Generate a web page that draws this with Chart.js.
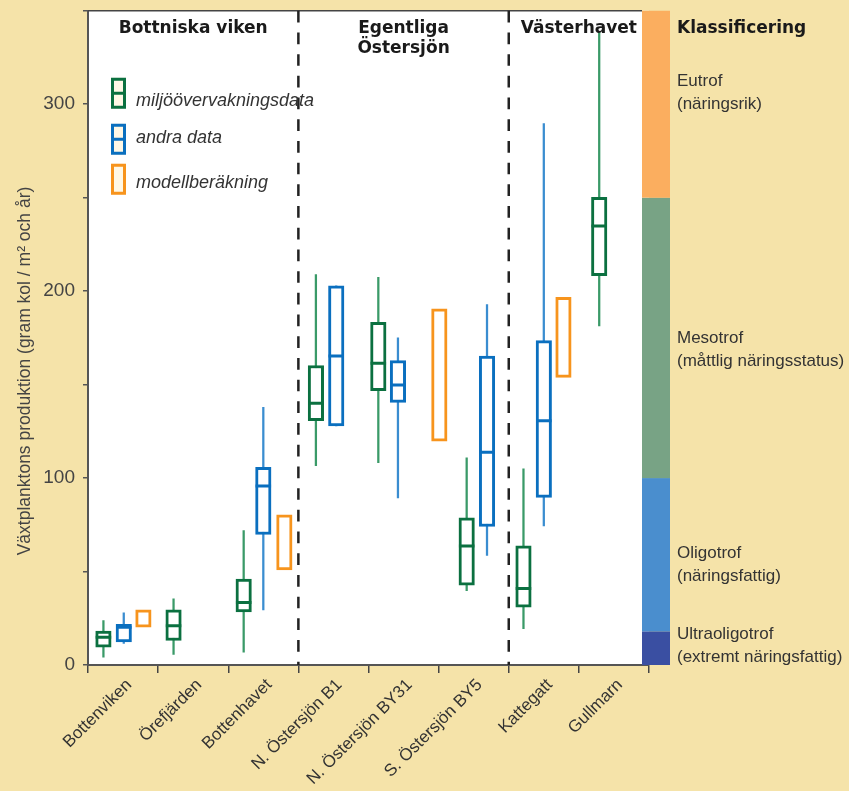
<!DOCTYPE html>
<html lang="sv">
<head>
<meta charset="utf-8">
<title>Växtplanktons produktion</title>
<script src="https://cdn.jsdelivr.net/npm/chart.js@4.4.1/dist/chart.umd.min.js"></script>
<style>
  html, body { margin: 0; padding: 0; background: #f5e3a9; }
  #wrap { width: 849px; height: 791px; }
</style>
</head>
<body>
<div id="wrap"><canvas id="prodChart" width="849" height="791"></canvas></div>
<script>
const categories = ['Bottenviken', 'Örefjärden', 'Bottenhavet', 'N. Östersjön B1',
    'N. Östersjön BY31', 'S. Östersjön BY5', 'Kattegatt', 'Gullmarn'];
const sectionTitles = [['Bottniska viken'], ['Egentliga', 'Östersjön'], ['Västerhavet']];
const sectionBreaks = [2.5, 5.5];
const yTicks = [0, 100, 200, 300];

// miljöövervakningsdata
const monMin = [4.2, 5.6, 6.8, 106.7, 108.3, 39.8, 19.4, 181.4];
const monQ1 = [9.5, 13.1, 28.4, 130.7, 146.8, 42.7, 30.9, 208.3];
const monMed = [14.9, 21.0, 33.4, 140.0, 161.4, 63.7, 40.9, 234.9];
const monQ3 = [18.1, 29.5, 45.9, 160.2, 183.3, 78.7, 63.7, 250.2];
const monMax = [23.8, 35.4, 71.9, 208.8, 207.4, 110.8, 104.9, 338.4];

// andra data
const otherMin = [11.5, null, 29.5, 127.9, 89.4, 58.6, 74.4, null];
const otherQ1 = [12.4, null, 69.8, 127.9, 140.5, 74.1, 89.7, null];
const otherMed = [20.2, null, 95.8, 165.3, 149.8, 113.8, 130.7, null];
const otherQ3 = [21.7, null, 105.8, 202.9, 162.8, 165.3, 173.5, null];
const otherMax = [27.9, null, 137.9, 202.9, 175.0, 192.8, 289.7, null];

// modellberäkning
const modelLow = [20.2, null, 50.9, null, null, 119.7, 153.9, null];
const modelHigh = [29.5, null, 80.3, null, null, 190.5, 196.7, null];

// klassificering
const classLimits = [0, 18, 100, 250, 350];
const classNames = ['Ultraoligotrof', 'Oligotrof', 'Mesotrof', 'Eutrof'];
const classNotes = ['(extremt näringsfattig)', '(näringsfattig)', '(måttlig näringsstatus)', '(näringsrik)'];
const legendLabels = ['miljöövervakningsdata', 'andra data', 'modellberäkning'];

// layout: box placement inside each category (category units) and label anchors
const monShift = [-0.28, -0.28, -0.28, -0.25, -0.36, -0.10, -0.29, -0.21];
const otherShift = [0.01, 0, 0, 0.04, -0.08, 0.19, 0, 0];
const modelShift = [0.29, 0, 0.30, 0, 0, -0.49, 0.28, 0];
const classLabelAt = [16.5, 60, 175, 312];

const FONT = "'Liberation Sans', Arial, sans-serif";
const BOLD = "'DejaVu Sans', sans-serif";
const colors = {
    mon: '#0b7040', monWhisker: '#3a9a68',
    other: '#0a6fbf', otherWhisker: '#3a8dd0',
    model: '#f7941d',
    bands: ['#3a4fa2', '#4a8ece', '#78a385', '#fbae5f'],
    text: '#333333'
};

function rangeData(lo, hi, shift) {
    return categories.map((c, i) => lo[i] == null ? null : { x: i + shift[i], y: [lo[i], hi[i]] })
        .filter(Boolean);
}

function pointData(values, shift) {
    return categories.map((c, i) => values[i] == null ? null : { x: i + shift[i], y: values[i] })
        .filter(Boolean);
}

// keep the plot area exactly where the axes say, no label overhang padding
function fixAxis(size) {
    return s => {
        if (s.isHorizontal()) s.height = size; else s.width = size;
        s.paddingTop = 0;
        s.paddingBottom = 0;
        s.paddingLeft = 0;
        s.paddingRight = 0;
    };
}

const common = { xAxisID: 'xPos', yAxisID: 'y' };
const boxStyle = { type: 'bar', grouped: false, barThickness: 15.5, borderWidth: 3,
    borderSkipped: false, backgroundColor: '#ffffff', order: 3 };
const whiskerStyle = { type: 'bar', grouped: false, barThickness: 1.6, borderWidth: 0, order: 5 };
const medianStyle = { type: 'scatter', pointStyle: 'line', pointRadius: 7.75,
    pointBorderWidth: 3, order: 1 };

const datasets = [
    { ...common, ...whiskerStyle, label: 'mon-whisker', data: rangeData(monMin, monMax, monShift),
        backgroundColor: colors.monWhisker },
    { ...common, ...whiskerStyle, label: 'other-whisker', data: rangeData(otherMin, otherMax, otherShift),
        backgroundColor: colors.otherWhisker },
    { ...common, ...boxStyle, label: legendLabels[0], data: rangeData(monQ1, monQ3, monShift),
        borderColor: colors.mon },
    { ...common, ...boxStyle, label: legendLabels[1], data: rangeData(otherQ1, otherQ3, otherShift),
        borderColor: colors.other },
    { ...common, ...boxStyle, label: legendLabels[2], data: rangeData(modelLow, modelHigh, modelShift),
        borderColor: colors.model },
    { ...common, ...medianStyle, label: 'mon-median', data: pointData(monMed, monShift),
        borderColor: colors.mon },
    { ...common, ...medianStyle, label: 'other-median', data: pointData(otherMed, otherShift),
        borderColor: colors.other }
];

function drawIcon(ctx, x, y, color, withMedian) {
    ctx.fillStyle = '#fff8e6';
    ctx.fillRect(x, y, 15, 31);
    ctx.strokeStyle = color;
    ctx.lineWidth = 3;
    ctx.strokeRect(x + 1.5, y + 1.5, 12, 28);
    if (withMedian) {
        ctx.beginPath();
        ctx.moveTo(x, y + 15.5);
        ctx.lineTo(x + 15, y + 15.5);
        ctx.stroke();
    }
}

const decorPlugin = {
    id: 'decor',
    beforeDraw(chart) {
        const { ctx, chartArea: a } = chart;
        ctx.save();
        ctx.fillStyle = '#ffffff';
        ctx.fillRect(a.left, a.top, a.right - a.left, a.bottom - a.top);
        ctx.restore();
    },
    afterDraw(chart) {
        const { ctx, chartArea: a } = chart;
        const xs = chart.scales.xPos;
        const ys = chart.scales.y;
        const barLeft = a.right - 7;
        ctx.save();

        // top border
        ctx.strokeStyle = '#444';
        ctx.lineWidth = 1.5;
        ctx.beginPath();
        ctx.moveTo(a.left, a.top);
        ctx.lineTo(barLeft, a.top);
        ctx.stroke();

        // section separators
        ctx.strokeStyle = '#222';
        ctx.lineWidth = 2.5;
        ctx.setLineDash([11.7, 10]);
        sectionBreaks.forEach(b => {
            const px = xs.getPixelForValue(b);
            ctx.beginPath();
            ctx.moveTo(px, a.top);
            ctx.lineTo(px, a.bottom);
            ctx.stroke();
        });
        ctx.setLineDash([]);

        // section titles
        const bounds = [-0.5, ...sectionBreaks, categories.length - 0.5];
        ctx.fillStyle = '#1a1a1a';
        ctx.font = `bold 17px ${BOLD}`;
        ctx.textAlign = 'center';
        ctx.textBaseline = 'middle';
        sectionTitles.forEach((lines, i) => {
            const cx = (xs.getPixelForValue(bounds[i]) + xs.getPixelForValue(bounds[i + 1])) / 2;
            lines.forEach((t, j) => ctx.fillText(t, cx, a.top + 18 + j * 20));
        });

        // legend
        const legendColors = [colors.mon, colors.other, colors.model];
        const iconTops = [67, 113, 153];
        const textMids = [90, 127, 172];
        ctx.textAlign = 'left';
        ctx.font = `italic 18px ${FONT}`;
        legendLabels.forEach((label, i) => {
            drawIcon(ctx, a.left + 23, a.top + iconTops[i], legendColors[i], i < 2);
            ctx.fillStyle = colors.text;
            ctx.fillText(label, a.left + 48, a.top + textMids[i]);
        });

        // classification bar
        for (let i = 0; i < classNames.length; i++) {
            const top = ys.getPixelForValue(classLimits[i + 1]);
            const bottom = ys.getPixelForValue(classLimits[i]);
            ctx.fillStyle = colors.bands[i];
            ctx.fillRect(barLeft, top, 28, bottom - top);
        }
        const textX = a.right + 28;
        ctx.fillStyle = '#1a1a1a';
        ctx.font = `bold 17px ${BOLD}`;
        ctx.fillText('Klassificering', textX, a.top + 18);
        ctx.fillStyle = colors.text;
        ctx.font = `17px ${FONT}`;
        classNames.forEach((name, i) => {
            const y = ys.getPixelForValue(classLabelAt[i]);
            ctx.fillText(name, textX, y);
            ctx.fillText(classNotes[i], textX, y + 23);
        });

        // y axis title
        ctx.fillStyle = '#444';
        ctx.font = `17.5px ${FONT}`;
        ctx.textAlign = 'center';
        ctx.translate(25, 371);
        ctx.rotate(-Math.PI / 2);
        ctx.fillText('Växtplanktons produktion (gram kol / m² och år)', 0, 0);
        ctx.restore();
    }
};

new Chart(document.getElementById('prodChart'), {
    type: 'bar',
    data: { datasets },
    options: {
        responsive: false,
        devicePixelRatio: 1,
        animation: false,
        events: [],
        layout: { padding: { top: 10, right: 200, left: 0, bottom: 0 } },
        plugins: { legend: { display: false }, tooltip: { enabled: false } },
        scales: {
            x: {
                type: 'category',
                labels: categories,
                offset: true,
                afterFit: fixAxis(126),
                border: { color: '#555', width: 2 },
                grid: { offset: true, drawOnChartArea: false, tickLength: 8, color: '#444', lineWidth: 1.5 },
                ticks: { minRotation: 45, maxRotation: 45, autoSkip: false, padding: 2, labelOffset: 6,
                    color: colors.text, font: { family: FONT, size: 17 } }
            },
            xPos: { type: 'linear', display: false, offset: false, min: -0.5, max: 7.5 },
            y: {
                min: 0,
                max: 350,
                afterFit: fixAxis(88),
                border: { color: '#555', width: 2 },
                grid: { drawOnChartArea: false, tickLength: 5, color: '#555', lineWidth: 1.5 },
                ticks: { stepSize: 50, padding: 8, color: '#444', font: { family: FONT, size: 19 },
                    callback: v => yTicks.includes(v) ? v : '' }
            }
        }
    },
    plugins: [decorPlugin]
});
</script>
</body>
</html>
